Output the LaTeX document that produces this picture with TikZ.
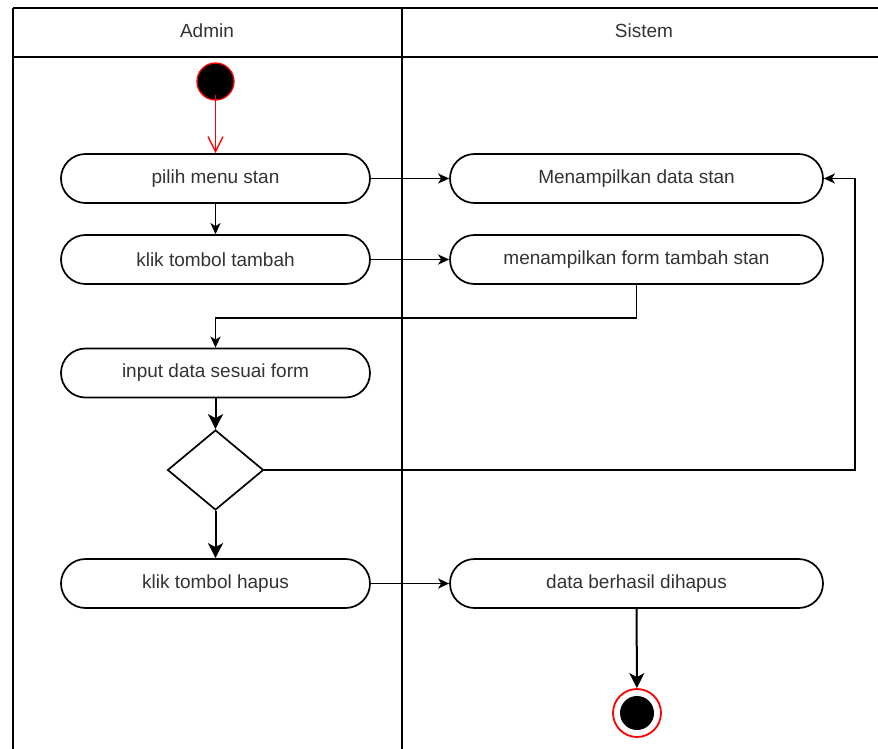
\documentclass[tikz,border=0pt]{standalone}
\usepackage{fontspec}
\setmainfont{Liberation Sans}
\usetikzlibrary{shapes.geometric,arrows.meta}
\definecolor{txt}{HTML}{333333}
\definecolor{startred}{HTML}{FF0000}
\begin{document}
\begin{tikzpicture}[x=1pt,y=-1pt,
  every node/.style={font=\fontsize{19}{23}\selectfont, text=txt},
  lane/.style={line width=2pt, draw=black},
  act/.style={draw=black, line width=1.7pt, fill=white, rounded corners=24.5pt,
    minimum width=309pt, minimum height=49pt, inner sep=0pt},
  sact/.style={act, minimum width=373pt},
  decision/.style={draw=black, line width=1.7pt, shape=diamond, fill=white,
    minimum width=96pt, minimum height=80pt, inner sep=0pt},
  arr/.style={line width=1.8pt, draw=black,
    -{Stealth[length=11pt,width=10pt,inset=3pt]}},
  arrbig/.style={line width=2pt, draw=black,
    -{Stealth[length=15pt,width=15pt,inset=4pt]}},
  startnode/.style={circle, fill=black, draw=startred, line width=1.3pt,
    minimum size=37pt, inner sep=0pt},
  endnode/.style={circle, fill=white, draw=startred, line width=1.8pt,
    minimum size=48pt, inner sep=0pt,
    path picture={\fill[black] (path picture bounding box.center) circle (17pt);}}
]
\useasboundingbox (0,0) rectangle (878,749);
\fill[white] (0,0) rectangle (878,749);

% swimlane frame
\draw[lane] (12.5,8) -- (890,8);
\draw[lane] (12.5,57) -- (890,57);
\draw[lane] (12.5,8) -- (12.5,760);
\draw[lane] (402,8) -- (402,760);
\node (hadmin) at (207,31) {Admin};
\node (hsistem) at (644,31) {Sistem};

% admin lane
\node[startnode] (start) at (215.5,81.5) {};
\node[act] (a1) at (215.5,178.5) {pilih menu stan};
\node[act] (a2) at (215.5,259.5) {klik tombol tambah};
\node[act] (a3) at (215.5,373) {input data sesuai form};
\node[decision] (dec) at (215.5,470) {};
\node[act] (a4) at (215.5,583.5) {klik tombol hapus};

% system lane
\node[sact] (s1) at (636.5,178.5) {Menampilkan data stan};
\node[sact] (s2) at (636.5,259.5) {menampilkan form tambah stan};
\node[sact] (s3) at (636.5,583.5) {data berhasil dihapus};
\node[endnode] (end) at (637,713) {};
\coordinate (loop) at (855,470);

% flows
\draw[draw=startred, line width=1.4pt,
  -{Straight Barb[length=15pt,width=15pt,line width=1.4pt]}]
  ([yshift=6pt]start.south) -- (a1.north);
\draw[arr] (a1.east) -- (s1.west);
\draw[arr] (a1) -- (a2);
\draw[arr] (a2.east) -- (s2.west);
\draw[arr] (s2.south) -- ++(0,33) -| (a3.north);
\draw[arrbig] (a3) -- (dec);
\draw[arr] (dec.east) -- (loop) |- (s1.east);
\draw[arrbig] (dec) -- (a4);
\draw[arr] (a4.east) -- (s3.west);
\draw[arrbig] (s3) -- (end);
\end{tikzpicture}
\end{document}
